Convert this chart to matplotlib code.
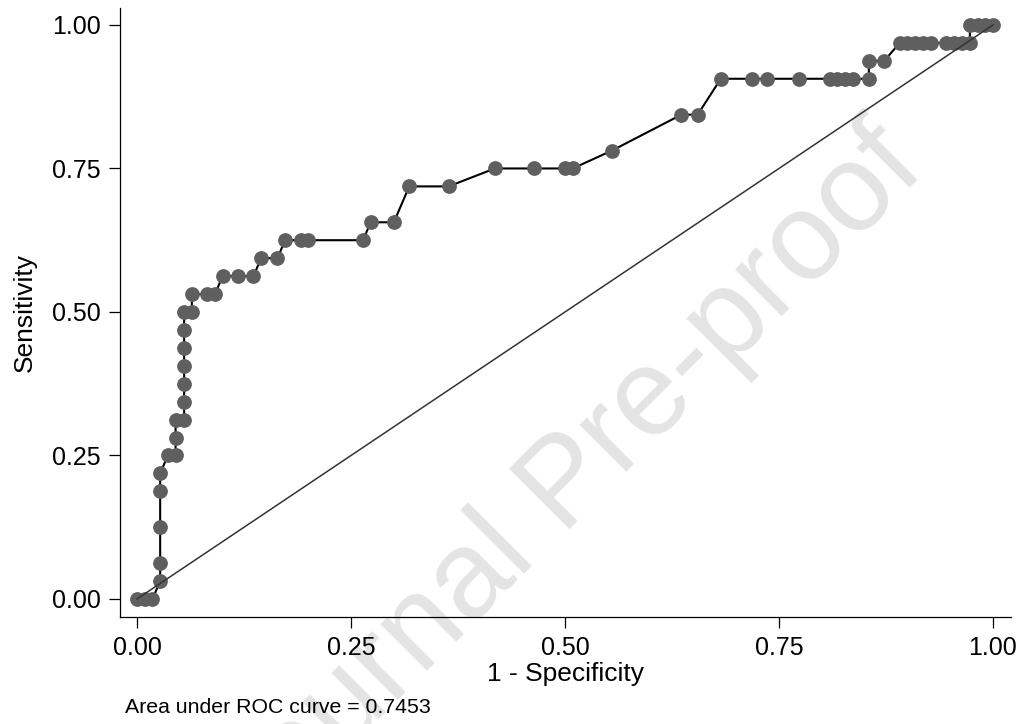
import matplotlib
matplotlib.use("Agg")
import matplotlib.pyplot as plt

plt.rcParams['font.family'] = ['Liberation Sans', 'DejaVu Sans']

# ROC points (1 - specificity, sensitivity)
fpr = [0.0, 0.009, 0.018, 0.027, 0.027, 0.027, 0.027, 0.027, 0.036, 0.045,
       0.045, 0.045, 0.055, 0.055, 0.055, 0.055, 0.055, 0.055, 0.055, 0.064,
       0.064, 0.082, 0.091, 0.100, 0.118, 0.136, 0.145, 0.164, 0.173, 0.191,
       0.200, 0.264, 0.273, 0.300, 0.318, 0.364, 0.418, 0.464, 0.500, 0.509,
       0.555, 0.636, 0.655, 0.682, 0.718, 0.736, 0.773, 0.809, 0.818, 0.827,
       0.836, 0.855, 0.855, 0.873, 0.891, 0.900, 0.909, 0.918, 0.927, 0.945,
       0.955, 0.964, 0.973, 0.973, 0.982, 0.991, 1.0]
tpr = [0.0, 0.0, 0.0, 0.03125, 0.0625, 0.125, 0.1875, 0.21875, 0.25, 0.25,
       0.28125, 0.3125, 0.3125, 0.34375, 0.375, 0.40625, 0.4375, 0.46875, 0.5, 0.5,
       0.53125, 0.53125, 0.53125, 0.5625, 0.5625, 0.5625, 0.59375, 0.59375, 0.625, 0.625,
       0.625, 0.625, 0.65625, 0.65625, 0.71875, 0.71875, 0.75, 0.75, 0.75, 0.75,
       0.78125, 0.84375, 0.84375, 0.90625, 0.90625, 0.90625, 0.90625, 0.90625, 0.90625, 0.90625,
       0.90625, 0.90625, 0.9375, 0.9375, 0.96875, 0.96875, 0.96875, 0.96875, 0.96875, 0.96875,
       0.96875, 0.96875, 0.96875, 1.0, 1.0, 1.0, 1.0]

ticks = [0.0, 0.25, 0.5, 0.75, 1.0]
tick_labels = ["0.00", "0.25", "0.50", "0.75", "1.00"]
auc_text = "Area under ROC curve = 0.7453"

fig = plt.figure(figsize=(10.25, 7.24), dpi=100)
ax = fig.add_axes([0.1171, 0.1478, 0.8692, 0.8412])
ax.set_facecolor('none')

# watermark behind the data
ax.text(589 / 1025, 1 - 509 / 724, "Journal Pre-proof", transform=fig.transFigure,
        rotation=45, rotation_mode='anchor', ha='center', va='baseline',
        fontsize=89, color='#e4e4e4', zorder=0, clip_on=False)

ax.plot(fpr, tpr, color='black', lw=1.5, marker='o', markersize=9.6,
        markerfacecolor='#5f5f5f', markeredgecolor='#5f5f5f', zorder=2)
ax.plot([0, 1], [0, 1], color='#333333', lw=1.1, zorder=3)

ax.set_xlim(-0.0199, 1.021)
ax.set_ylim(-0.0314, 1.0296)
ax.set_xticks(ticks)
ax.set_xticklabels(tick_labels)
ax.set_yticks(ticks)
ax.set_yticklabels(tick_labels)

for s in ['top', 'right']:
    ax.spines[s].set_visible(False)
for s in ['left', 'bottom']:
    ax.spines[s].set_linewidth(0.9)
ax.tick_params(direction='out', length=8, width=0.9, labelsize=18, pad=6)

ax.set_xlabel("1 - Specificity", fontsize=19, labelpad=1)
ax.set_ylabel("Sensitivity", fontsize=19, labelpad=11)

fig.text(125 / 1025, 1 - 713 / 724, auc_text, fontsize=15.3, ha='left', va='baseline')

fig.savefig("out.png", dpi=100)
